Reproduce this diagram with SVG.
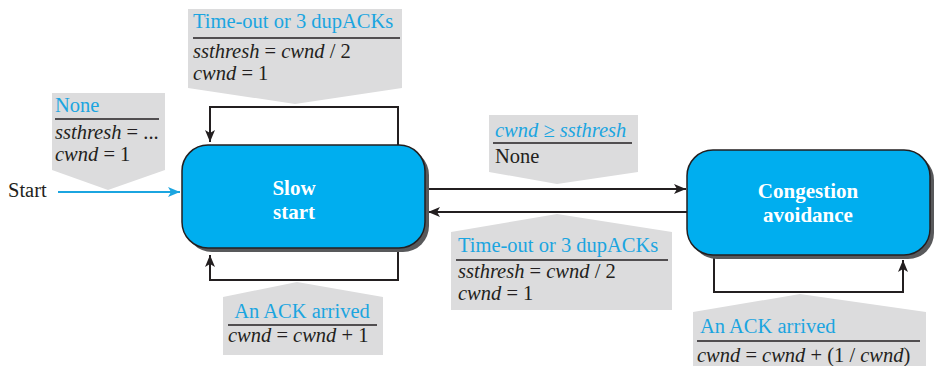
<svg xmlns="http://www.w3.org/2000/svg" width="935" height="366" viewBox="0 0 935 366">
<defs>
<style>
.call{fill:#dcdcdd;stroke:none}
.hd{font-family:"Liberation Serif",serif;font-size:20.5px;fill:#1ba5e0}
.tx{font-family:"Liberation Serif",serif;font-size:20.5px;fill:#231f20}
.it{font-style:italic}
.rule{stroke:#231f20;stroke-width:1.5}
.node{fill:#00aeef;stroke:#231f20;stroke-width:1.5}
.shadow{fill:#58595b}
.nl{font-family:"Liberation Serif",serif;font-size:21px;font-weight:bold;fill:#ffffff;text-anchor:middle}
.edge{fill:none;stroke:#231f20;stroke-width:2}
</style>
<marker id="ah" viewBox="0 0 12 10" refX="12" refY="5" markerWidth="12" markerHeight="10" markerUnits="userSpaceOnUse" orient="auto">
<path d="M0,0 L12,5 L0,10 L3,5 Z" fill="#231f20"/>
</marker>
<marker id="ahb" viewBox="0 0 12 10" refX="12" refY="5" markerWidth="12" markerHeight="10" markerUnits="userSpaceOnUse" orient="auto">
<path d="M0,0 L12,5 L0,10 L3,5 Z" fill="#1ba5e0"/>
</marker>
</defs>
<rect width="935" height="366" fill="#ffffff"/>

<g id="callouts">
<g id="callout-top">
<polygon class="call" points="188,9 402,9 402,88 295,104 188,88"/>
<text class="hd" x="193" y="28">Time-out or 3 dupACKs</text>
<line class="rule" x1="193" y1="38" x2="400" y2="38"/>
<text class="tx it" x="193" y="58">ssthresh<tspan font-style="normal"> = </tspan>cwnd<tspan font-style="normal"> / 2</tspan></text>
<text class="tx it" x="193" y="80">cwnd<tspan font-style="normal"> = 1</tspan></text>
</g>
<g id="callout-start">
<polygon class="call" points="52,93 165,93 165,170 108,190 52,170"/>
<text class="hd" x="55" y="112">None</text>
<line class="rule" x1="55" y1="119" x2="159" y2="119"/>
<text class="tx it" x="55" y="139">ssthresh<tspan font-style="normal"> = ...</tspan></text>
<text class="tx it" x="55" y="161">cwnd<tspan font-style="normal"> = 1</tspan></text>
</g>
<g id="callout-ss-ack">
<polygon class="call" points="223,297 297,282 383,297 383,355 223,355"/>
<text class="hd" x="302" y="318" text-anchor="middle">An ACK arrived</text>
<line class="rule" x1="228" y1="325" x2="377" y2="325"/>
<text class="tx it" x="228" y="342">cwnd<tspan font-style="normal"> = </tspan>cwnd<tspan font-style="normal"> + 1</tspan></text>
</g>
<g id="callout-mid-top">
<polygon class="call" points="489,115 638,115 638,172 557,184 489,172"/>
<text class="hd it" x="495" y="137">cwnd ≥ ssthresh</text>
<line class="rule" x1="493" y1="143" x2="632" y2="143"/>
<text class="tx" x="495" y="163">None</text>
</g>
<g id="callout-mid-bottom">
<polygon class="call" points="451,232 557,214 672,232 672,310 451,310"/>
<text class="hd" x="458" y="252">Time-out or 3 dupACKs</text>
<line class="rule" x1="456" y1="260" x2="668" y2="260"/>
<text class="tx it" x="458" y="278">ssthresh<tspan font-style="normal"> = </tspan>cwnd<tspan font-style="normal"> / 2</tspan></text>
<text class="tx it" x="458" y="300">cwnd<tspan font-style="normal"> = 1</tspan></text>
</g>
<g id="callout-ca-ack">
<polygon class="call" points="693,312 800,294 926,312 926,366 693,366"/>
<text class="hd" x="700" y="333">An ACK arrived</text>
<line class="rule" x1="697" y1="341" x2="920" y2="341"/>
<text class="tx it" x="697" y="362">cwnd<tspan font-style="normal"> = </tspan>cwnd<tspan font-style="normal"> + (1 / </tspan>cwnd<tspan font-style="normal">)</tspan></text>
</g>
</g>

<g id="connectors">
<text x="8" y="197" font-family="Liberation Serif, serif" font-size="20.5" fill="#231f20">Start</text>
<line x1="58" y1="192" x2="180" y2="192" stroke="#1ba5e0" stroke-width="1.8" marker-end="url(#ahb)"/>
<polyline class="edge" points="398,145 398,107 210,107 210,142" marker-end="url(#ah)"/>
<polyline class="edge" points="398,251 398,280 210,280 210,255" marker-end="url(#ah)"/>
<line class="edge" x1="425" y1="189" x2="686" y2="189" marker-end="url(#ah)"/>
<line class="edge" x1="688" y1="212" x2="428" y2="212" marker-end="url(#ah)"/>
<polyline class="edge" points="714,256 714,292 903,292 903,260" marker-end="url(#ah)"/>
</g>

<g id="node-slow-start">
<rect class="shadow" x="186" y="149" width="243" height="103" rx="26"/>
<rect class="node" x="182" y="145" width="243" height="103" rx="26"/>
<text class="nl" x="294" y="195">Slow</text>
<text class="nl" x="294" y="219">start</text>
</g>
<g id="node-congestion-avoidance">
<rect class="shadow" x="691" y="154" width="243" height="105" rx="26"/>
<rect class="node" x="687" y="150" width="243" height="105" rx="26"/>
<text class="nl" x="808" y="198">Congestion</text>
<text class="nl" x="808" y="222">avoidance</text>
</g>
</svg>
